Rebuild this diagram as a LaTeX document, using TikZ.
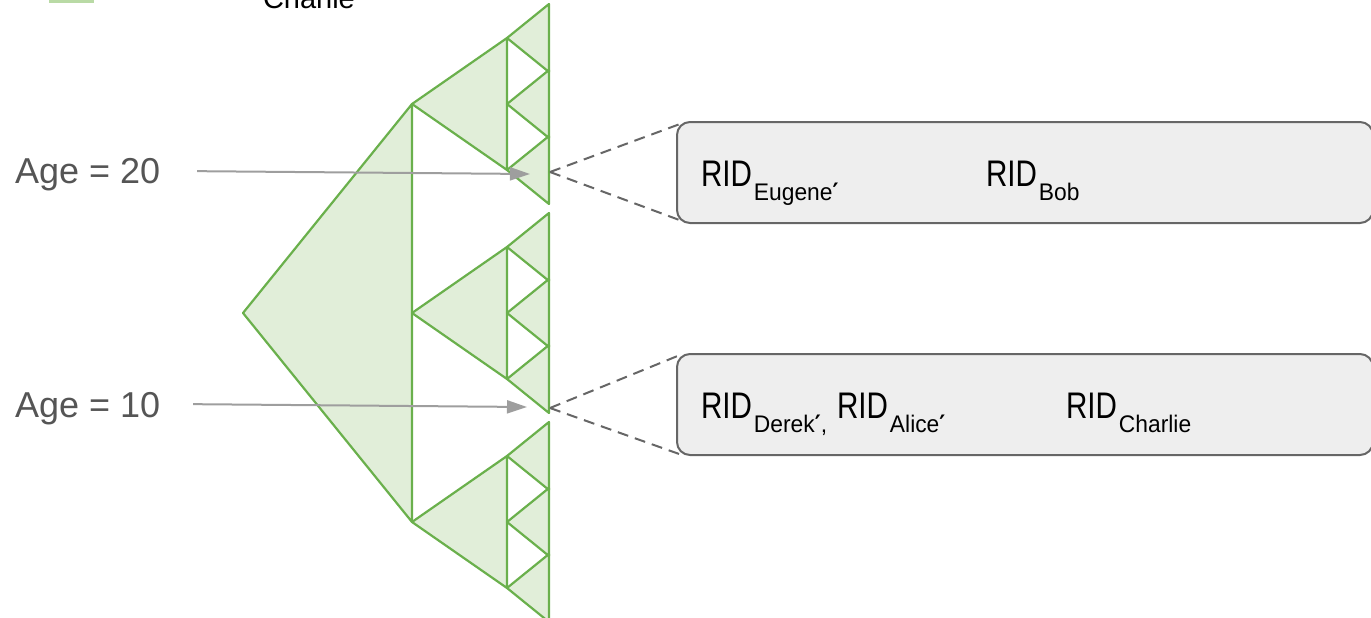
\documentclass[tikz,border=0pt]{standalone}
\usepackage{graphicx}
\usepackage{fontspec}
\setmainfont{Liberation Sans}
\newfontfamily\primefont{DejaVu Sans}
\usetikzlibrary{arrows.meta,positioning}
\definecolor{leafgreen}{RGB}{106,176,76}
\definecolor{leaffill}{RGB}{225,238,217}
\definecolor{legendgreen}{RGB}{185,218,165}
\definecolor{boxfill}{RGB}{238,238,238}
\definecolor{boxline}{RGB}{102,102,102}
\definecolor{agegray}{RGB}{85,85,85}
\definecolor{ptrgray}{RGB}{158,158,158}
\newcommand{\pr}{{\primefont\bfseries ′}}
\newcommand{\rid}[1]{\scalebox{0.8}[1]{\fontsize{37}{37}\selectfont RID}\kern2pt\raisebox{-14pt}{\scalebox{0.95}[1]{\fontsize{24}{24}\selectfont #1}}}
\tikzset{
  every node/.style={
    inner sep=0pt,
    outer sep=0pt
  },
  tri/.style={
    draw=leafgreen,
    fill=leaffill,
    line width=2.2pt,
    line join=round
  },
  ptr/.style={
    draw=ptrgray,
    line width=2pt,
    -{Triangle[length=20pt,width=13pt]}
  },
  fan/.style={
    draw=boxline,
    dash pattern=on 11pt off 7pt,
    line width=2pt
  },
  ridbox/.style={
    draw=boxline,
    fill=boxfill,
    rounded corners=13pt,
    line width=2pt,
    minimum width=696pt,
    minimum height=101pt,
    anchor=north west
  },
  agelabel/.style={
    text=agegray,
    font=\fontsize{36}{36}\selectfont,
    anchor=base west
  },
  ridlabel/.style={
    anchor=base west
  }
}

\begin{document}
\begin{tikzpicture}[x=1pt,y=-1pt]
  \useasboundingbox (0,0) rectangle (1371,618);
  \fill[legendgreen] (49,-10) rectangle (94,3);
  \node[anchor=base west, font=\fontsize{29}{29}\selectfont] (charlieTop) at (263,9) {Charlie};

  \draw[tri] (243,313) -- (412,104) -- (412,522) -- cycle;
  \foreach \m in {104,313,522}{
    \draw[tri] (412,\m) -- (507,\m-66) -- (507,\m+66) -- cycle;
    \foreach \k in {-66,0,66}
      \draw[tri] (507,\m+\k) -- (549,\m+\k-34) -- (549,\m+\k+34) -- cycle;
  }

  \coordinate (hit20) at (530,174);
  \coordinate (hit10) at (527,407);
  \coordinate (fan20) at (550,172);
  \coordinate (fan10) at (550,408);

  \node[agelabel] (age20) at (15,183) {Age = 20};
  \node[agelabel] (age10) at (15,417) {Age = 10};
  \draw[ptr] ([xshift=37pt,yshift=3pt]age20.east) -- (hit20);
  \draw[ptr] ([xshift=33pt,yshift=4pt]age10.east) -- (hit10);

  \draw[fan] (fan20) -- (680,124);
  \draw[fan] (fan20) -- (682,221);
  \draw[fan] (fan10) -- (680,355);
  \draw[fan] (fan10) -- (682,455);
  \node[ridbox] (box20) at (677,122) {};
  \node[ridbox] (box10) at (677,354) {};

  \node[ridlabel] (ridEugene) at (701,186) {\rid{Eugene\pr}};
  \node[ridlabel] (ridBob) at (986,186) {\rid{Bob}};
  \node[ridlabel] (ridDerek) at (701,418) {\rid{Derek\pr,}};
  \node[ridlabel] (ridAlice) at (837,418) {\rid{Alice\pr}};
  \node[ridlabel] (ridCharlie) at (1066,418) {\rid{Charlie}};
\end{tikzpicture}
\end{document}
